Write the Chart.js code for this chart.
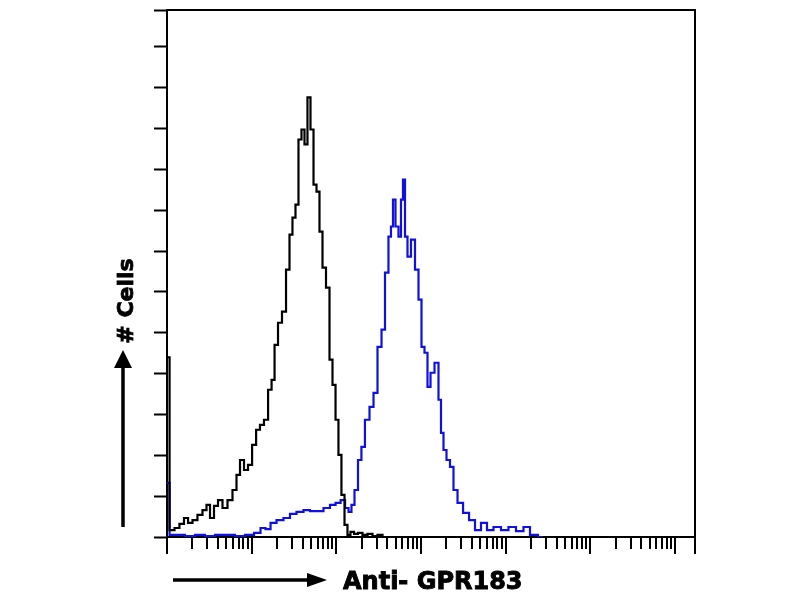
<!DOCTYPE html>
<html lang="en">
<head>
    <meta charset="UTF-8">
    <title>Anti- GPR183 flow histogram</title>
    <script src="https://cdn.jsdelivr.net/npm/chart.js"></script>
    <style>
        html, body {
            margin: 0;
            padding: 0;
            background: #ffffff;
        }
        .chart-box {
            width: 800px;
            height: 600px;
        }
    </style>
</head>
<body>
    <div class="chart-box">
        <canvas id="histChart" width="800" height="600"></canvas>
    </div>

    <script>
        // isotype control (black) - fluorescence intensity and cell counts
        const controlIntensity = [1.0, 1.15, 1.31, 1.50, 1.68, 1.87, 2.14, 2.45, 2.81, 3.05,
            3.40, 3.79, 4.23, 4.84, 5.55, 6.35, 6.90, 7.69, 8.57, 9.56,
            10.7, 11.9, 13.2, 14.8, 16.5, 17.9, 19.4, 21.6, 24.1, 26.9,
            29.1, 31.6, 34.3, 37.2, 40.4, 43.8, 47.5, 51.6, 56.0, 60.7,
            65.9, 71.5, 79.7, 86.5, 93.8, 102, 110, 120, 130, 141,
            153, 171, 190, 218, 250, 286, 328, 376];
        const controlCounts = [88, 3.4, 4.4, 6.4, 9.3, 6.9, 8.3, 10.8, 13.2, 15.7,
            9.3, 15.2, 18.1, 14.2, 18.1, 23, 30.4, 37.7, 32.8, 35.3,
            45.1, 52.5, 54.9, 57.4, 72.1, 76.9, 94.1, 104.9, 110.3, 130.9,
            148, 156.4, 162.7, 194.6, 199.5, 192.2, 215.2, 199.5, 172.5, 169.1,
            149.5, 131.9, 122.1, 86.8, 74.5, 57.4, 40.2, 20.6, 5.9, 1,
            2.5, 1.5, 2, 1, 1.5, 0.5, 1, 0];

        // Anti-GPR183 stained (blue)
        const gprIntensity = [1.0, 1.15, 1.42, 1.87, 2.45, 3.22, 4.23, 5.55, 7.28, 9.56,
            11.9, 13.6, 15.6, 17.9, 21.6, 26.1, 30.8, 37.2, 45.0, 53.0,
            64.1, 77.6, 91.3, 105, 120, 134, 145, 157, 171, 190,
            206, 230, 264, 286, 328, 356, 396, 430, 454, 480,
            520, 565, 596, 630, 665, 721, 804, 897, 973, 1056,
            1145, 1243, 1349, 1546, 1675, 1770, 1920, 2084, 2323, 2520,
            2890, 3409, 4003, 4712, 5546, 6530, 7898, 9816, 11870, 14760,
            17850, 21020, 27600];
        const gprCounts = [26.5, 1, 1, 0.5, 1, 0.5, 1, 1, 0.5, 1,
            2, 4.4, 3.9, 6.9, 8.3, 9.3, 11.3, 12.3, 13.2, 12.7,
            12.7, 14.2, 15.7, 16.7, 18.1, 14.2, 12.3, 15.7, 23, 37.7,
            44.1, 57.4, 63.7, 70.6, 93.1, 101.5, 129.4, 147.1, 152, 165.2,
            152, 147.1, 165.2, 175, 147.1, 137.3, 145.6, 130.9, 116.2, 93.1,
            90.2, 73.5, 80.4, 85.3, 67.2, 51, 42.6, 37.7, 34.3, 23,
            16.7, 11.8, 8.3, 3.4, 6.9, 3.4, 4.9, 3.4, 4.9, 2.9,
            4.9, 1, 0];

        // log axis decades and minor multipliers
        const decades = [1, 10, 100, 1000, 10000, 100000, 1000000];
        const minorSteps = [2, 3, 4, 5, 6, 7, 8, 9];
        const xMax = 1722000;
        const yMax = 258;
        const yStep = 20;

        const toPoints = (xs, ys) => xs.map((v, i) => ({ x: v, y: ys[i] }));

        // frame, log ticks and axis titles with arrows
        const framePlugin = {
            id: 'frame',
            afterDraw(chart) {
                const { ctx, chartArea: a } = chart;
                const xScale = chart.scales.x;
                ctx.save();
                ctx.strokeStyle = '#000';
                ctx.fillStyle = '#000';
                ctx.lineWidth = 2;

                // top and right border (right runs down like an end tick)
                ctx.beginPath();
                ctx.moveTo(a.left - 1, a.top);
                ctx.lineTo(a.right, a.top);
                ctx.lineTo(a.right, a.bottom + 17);
                ctx.stroke();

                // x log ticks
                xScale.ticks.forEach(t => {
                    const px = Math.round(xScale.getPixelForValue(t.value));
                    ctx.beginPath();
                    ctx.moveTo(px, a.bottom);
                    ctx.lineTo(px, a.bottom + (t.major ? 17 : 12));
                    ctx.stroke();
                });

                // x title with arrow
                ctx.lineWidth = 3.5;
                ctx.beginPath();
                ctx.moveTo(173, 580);
                ctx.lineTo(310, 580);
                ctx.stroke();
                ctx.beginPath();
                ctx.moveTo(307, 573);
                ctx.lineTo(327, 580);
                ctx.lineTo(307, 587);
                ctx.closePath();
                ctx.fill();

                ctx.font = 'bold 24px "DejaVu Sans"';
                ctx.textAlign = 'left';
                ctx.textBaseline = 'alphabetic';
                ctx.lineWidth = 0.9;
                ctx.fillText('Anti- GPR183', 343, 589, 186);
                ctx.strokeText('Anti- GPR183', 343, 589, 186);

                // y title with arrow
                ctx.lineWidth = 3.5;
                ctx.beginPath();
                ctx.moveTo(123, 527);
                ctx.lineTo(123, 365);
                ctx.stroke();
                ctx.beginPath();
                ctx.moveTo(114, 368);
                ctx.lineTo(123, 350);
                ctx.lineTo(132, 368);
                ctx.closePath();
                ctx.fill();

                ctx.translate(133, 301);
                ctx.rotate(-Math.PI / 2);
                ctx.textAlign = 'center';
                ctx.font = 'bold 22px "DejaVu Sans"';
                ctx.lineWidth = 0.8;
                ctx.fillText('# Cells', 0, 0, 90);
                ctx.strokeText('# Cells', 0, 0, 90);
                ctx.restore();
            }
        };

        const ctx = document.getElementById('histChart').getContext('2d');

        new Chart(ctx, {
            type: 'line',
            data: {
                datasets: [
                    {
                        label: 'Isotype control',
                        data: toPoints(controlIntensity, controlCounts),
                        borderColor: '#000000',
                        borderWidth: 2.2,
                        pointRadius: 0,
                        stepped: 'middle',
                        fill: false
                    },
                    {
                        label: 'Anti- GPR183',
                        data: toPoints(gprIntensity, gprCounts),
                        borderColor: '#1010e0',
                        borderWidth: 2.2,
                        pointRadius: 0,
                        stepped: 'middle',
                        fill: false
                    }
                ]
            },
            options: {
                responsive: false,
                animation: false,
                layout: {
                    padding: { left: 0, top: 10, right: 105, bottom: 0 }
                },
                plugins: {
                    legend: { display: false },
                    tooltip: { enabled: false }
                },
                scales: {
                    x: {
                        type: 'logarithmic',
                        position: 'bottom',
                        min: 1,
                        max: xMax,
                        grid: { display: false },
                        border: { display: true, color: '#000', width: 2 },
                        ticks: { display: false },
                        afterBuildTicks: scale => {
                            const list = [];
                            decades.forEach(d => {
                                list.push({ value: d, major: true });
                                if (d < decades[decades.length - 1]) {
                                    minorSteps.forEach(m => list.push({ value: d * m, major: false }));
                                }
                            });
                            scale.ticks = list;
                        },
                        afterFit: scale => { scale.height = 63; }
                    },
                    y: {
                        type: 'linear',
                        min: 0,
                        max: yMax,
                        grid: {
                            drawOnChartArea: false,
                            drawTicks: true,
                            tickLength: 13,
                            tickWidth: 2,
                            tickColor: '#000'
                        },
                        border: { display: true, color: '#000', width: 2 },
                        ticks: { display: false, stepSize: yStep },
                        afterFit: scale => { scale.width = 167; }
                    }
                }
            },
            plugins: [framePlugin]
        });
    </script>
</body>
</html>
